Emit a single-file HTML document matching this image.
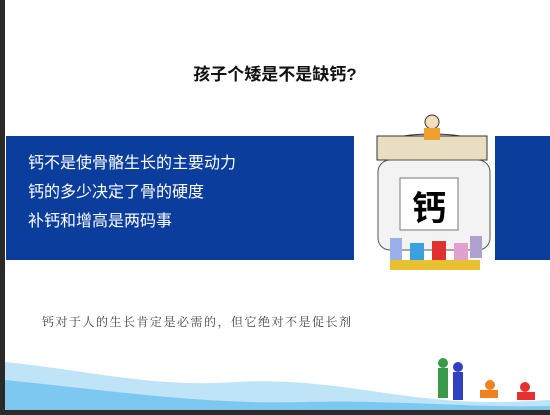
<!DOCTYPE html>
<html><head><meta charset="utf-8"><style>
body{margin:0;width:550px;height:415px;overflow:hidden;background:#fff;position:relative;font-family:"Liberation Sans","Noto Sans CJK SC",sans-serif}
div{position:absolute}
</style></head><body>
<div style="left:0;top:0;width:5px;height:415px;background:#2a2a2a"></div>
<div style="left:0;top:410px;width:550px;height:5px;background:#2a2a2a"></div>
<div style="left:0;width:550px;top:60px;text-align:center;font-size:17px;font-weight:bold;color:#111">孩子个矮是不是缺钙?</div>
<div style="left:6px;top:136px;width:348px;height:124px;background:#0a3d9c"></div>
<div style="left:495px;top:136px;width:55px;height:124px;background:#0a3d9c"></div>
<div style="left:28px;top:149px;color:#fff;font-size:16px;line-height:29px">
<div style="position:static">钙不是使骨骼生长的主要动力</div>
<div style="position:static">钙的多少决定了骨的硬度</div>
<div style="position:static">补钙和增高是两码事</div>
</div>
<svg style="position:absolute;left:360px;top:108px" width="140" height="180">
<ellipse cx="72" cy="40" rx="55" ry="14" fill="#eee6cc" stroke="#333"/>
<rect x="17" y="28" width="110" height="24" fill="#e9dfc0" stroke="#333"/>
<rect x="18" y="52" width="112" height="90" rx="12" fill="#f3f3f3" stroke="#555"/>
<rect x="40" y="70" width="58" height="52" fill="#fff" stroke="#777"/>
<text x="69" y="112" text-anchor="middle" font-size="34" font-weight="bold" font-family="Noto Sans CJK SC,sans-serif">钙</text>
<circle cx="72" cy="14" r="7" fill="#f5dcc0" stroke="#333"/><rect x="64" y="20" width="16" height="12" fill="#f0a030"/>
<rect x="30" y="130" width="12" height="22" fill="#9bb0e8"/><rect x="50" y="135" width="14" height="20" fill="#3aa0e0"/>
<rect x="72" y="133" width="14" height="22" fill="#e03030"/><rect x="94" y="135" width="14" height="20" fill="#e0a0d0"/>
<rect x="110" y="128" width="12" height="22" fill="#b0a0d0"/>
<rect x="30" y="152" width="90" height="10" fill="#e8c030"/>
</svg>
<div style="left:42px;top:313px;font-size:12px;color:#444;font-family:'Liberation Serif','Noto Serif CJK SC',serif;letter-spacing:1.5px">钙对于人的生长肯定是必需的，但它绝对不是促长剂</div>
<svg style="position:absolute;left:5px;top:350px" width="545" height="60">
<path d="M0 12 C80 20 150 38 230 32 C300 28 350 40 420 48 C470 54 510 52 545 50 L545 60 L0 60Z" fill="#bfe3f7"/>
<path d="M0 30 C100 40 200 55 300 52 C400 50 470 58 545 56 L545 60 L0 60Z" fill="#7cc8f0"/>
</svg>
<svg style="position:absolute;left:425px;top:355px" width="125" height="55">
<circle cx="18" cy="8" r="5" fill="#3a9a4a"/><rect x="13" y="13" width="10" height="30" fill="#3a9a4a"/>
<circle cx="33" cy="12" r="5" fill="#3040c0"/><rect x="28" y="17" width="10" height="28" fill="#3040c0"/>
<circle cx="65" cy="30" r="5" fill="#f08020"/><rect x="55" y="35" width="18" height="8" fill="#f08020"/>
<circle cx="100" cy="32" r="5" fill="#e83030"/><rect x="92" y="37" width="18" height="8" fill="#e83030"/>
</svg>
</body></html>
